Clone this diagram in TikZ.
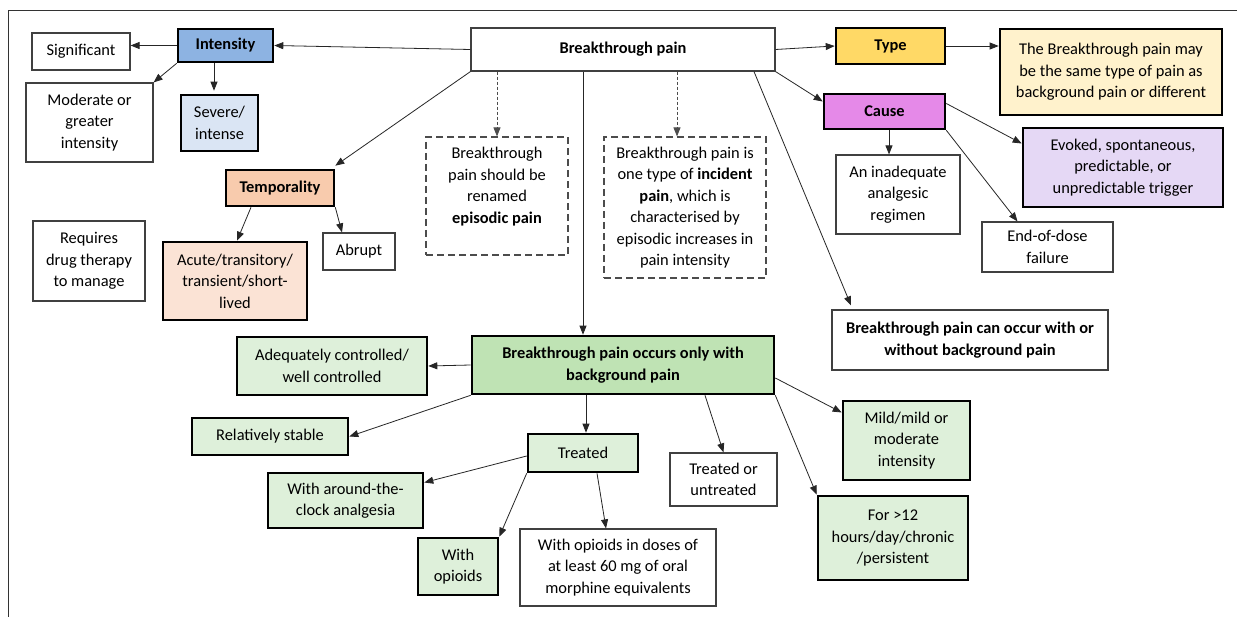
\documentclass[tikz,border=0pt]{standalone}
\usepackage{fontspec}
\setmainfont{Carlito}
\usetikzlibrary{arrows.meta}
\definecolor{cIntensity}{HTML}{8DB3E2}
\definecolor{cSevere}{HTML}{DAE5F4}
\definecolor{cTemp}{HTML}{F8CBAD}
\definecolor{cAcute}{HTML}{FBE3D5}
\definecolor{cType}{HTML}{FFD966}
\definecolor{cTypeText}{HTML}{FFF2CC}
\definecolor{cCause}{HTML}{E589E8}
\definecolor{cEvoked}{HTML}{E5D8F5}
\definecolor{cBG}{HTML}{BFE3B4}
\definecolor{cLight}{HTML}{DEF0DA}
\begin{document}
\begin{tikzpicture}[x=1pt,y=-1pt,
  base/.style={align=center, inner sep=0pt, font=\fontsize{16.4}{21.5}\selectfont, text=black},
  thinbox/.style={base, draw=black!75, line width=1.2pt, fill=white},
  thickbox/.style={base, draw=black, line width=2.6pt},
  dashbox/.style={base, draw=black!70, line width=1.2pt, dash pattern=on 7pt off 4pt, fill=white},
  conn/.style={draw=black!85, line width=0.8pt, -{Triangle[length=9pt,width=7pt]}},
  dotconn/.style={conn, draw=black!70, dash pattern=on 3pt off 2pt},
  framestyle/.style={draw=black!80, line width=1.4pt}]
\useasboundingbox (0,0) rectangle (1237,617);
\fill[white] (0,0) rectangle (1237,617);
% frame
\coordinate (ftr) at (1237,10.5);
\coordinate (ftl) at (8.5,10.5);
\coordinate (fbl) at (8.5,617);
\draw[framestyle] (ftr) -- (ftl) -- (fbl);

% nodes
\node[thinbox, minimum width=98, minimum height=37] (significant) at (81,51.5) {Significant};
\node[thickbox, fill=cIntensity, minimum width=95, minimum height=33] (intensity) at (225.5,45.5) {\textbf{Intensity}};
\node[thinbox, minimum width=127, minimum height=79] (moderate) at (89.5,122.5) {Moderate or\\greater\\intensity};
\node[thickbox, fill=cSevere, minimum width=77, minimum height=56] (severe) at (219.5,123) {Severe/\\intense};
\node[thickbox, fill=cTemp, minimum width=108, minimum height=36] (temporality) at (280,188) {\textbf{Temporality}};
\node[thinbox, minimum width=112, minimum height=80] (requires) at (89,261) {Requires\\drug therapy\\to manage};
\node[thickbox, fill=cAcute, minimum width=144, minimum height=78] (acute) at (235,281) {Acute/transitory/\\transient/short-\\lived};
\node[thinbox, minimum width=72, minimum height=37] (abrupt) at (359,251.5) {Abrupt};

\node[thinbox, minimum width=304, minimum height=43] (bp) at (623,49.5) {\textbf{Breakthrough pain}};
\node[dashbox, minimum width=142, minimum height=118] (dashed1) at (497,196) {Breakthrough\\pain should be\\renamed\\\textbf{episodic pain}\\\mbox{}};
\node[dashbox, minimum width=162, minimum height=141] (dashed2) at (685,207.5) {Breakthrough pain is\\one type of \textbf{incident}\\\textbf{pain}, which is\\characterised by\\episodic increases in\\pain intensity};

\node[thickbox, fill=cType, minimum width=109, minimum height=36] (type) at (890.5,46) {\textbf{Type}};
\node[thickbox, fill=cTypeText, minimum width=222, minimum height=86] (typetext) at (1111,72) {The Breakthrough pain may\\be the same type of pain as\\background pain or different};
\node[thickbox, fill=cCause, minimum width=121, minimum height=35] (cause) at (884.5,111.5) {\textbf{Cause}};
\node[thickbox, fill=cEvoked, minimum width=200, minimum height=79] (evoked) at (1123,167.5) {Evoked, spontaneous,\\predictable, or\\unpredictable trigger};
\node[thinbox, minimum width=124, minimum height=79] (inadequate) at (898,194.5) {An inadequate\\analgesic\\regimen};
\node[thinbox, minimum width=131, minimum height=50] (enddose) at (1047.5,247) {End-of-dose\\failure};
\node[thinbox, minimum width=276, minimum height=60] (canoccur) at (970,340) {\textbf{Breakthrough pain can occur with or}\\\textbf{without background pain}};

\node[thickbox, fill=cBG, minimum width=302, minimum height=58] (bg) at (623,365) {\textbf{Breakthrough pain occurs only with}\\\textbf{background pain}};
\node[thickbox, fill=cLight, minimum width=190, minimum height=58] (adequate) at (332,366) {Adequately controlled/\\well controlled};
\node[thickbox, fill=cLight, minimum width=156, minimum height=37] (relstable) at (270,436.5) {Relatively stable};
\node[thickbox, fill=cLight, minimum width=110, minimum height=38] (treated) at (583,453) {Treated};
\node[thickbox, fill=cLight, minimum width=155, minimum height=55] (around) at (345.5,500.5) {With around-the-\\clock analgesia};
\node[thickbox, fill=cLight, minimum width=80, minimum height=57] (opioids) at (458,566.5) {With\\opioids};
\node[thinbox, minimum width=196, minimum height=77] (doses) at (618,567.5) {With opioids in doses of\\at least 60 mg of oral\\morphine equivalents};
\node[thinbox, minimum width=107, minimum height=53] (treatedor) at (723.5,479.5) {Treated or\\untreated};
\node[thickbox, fill=cLight, minimum width=127, minimum height=79] (mild) at (906.5,440.5) {Mild/mild or\\moderate\\intensity};
\node[thickbox, fill=cLight, minimum width=150, minimum height=84] (for12) at (893,538) {For >12\\hours/day/chronic\\/persistent};

% connectors
\draw[conn] (bp.west) -- (intensity.east);
\draw[conn] (intensity.west) -- (significant.east |- intensity.west);
\draw[conn] (intensity.south west) -- (moderate.north east);
\draw[conn] ([xshift=-11.5pt]intensity.south) -- ([xshift=-5.5pt,yshift=3pt]severe.north);
\draw[conn] (bp.south west) -- ([yshift=3pt]temporality.north east);
\draw[conn] ([xshift=-29pt]temporality.south) -- ([xshift=2pt]acute.north);
\draw[conn] (temporality.south east) -- ([xshift=-17pt]abrupt.north);
\draw[conn] (bp.east) -- (type.west);
\draw[conn] (type.east) -- (typetext.west |- type.east);
\draw[conn] (bp.south east) -- ([yshift=10pt]cause.west);
\draw[conn] ([yshift=8pt]cause.east) -- ([yshift=24pt]evoked.west);
\draw[conn] ([xshift=4.5pt]cause.south) -- ([xshift=-9pt]inadequate.north);
\draw[conn] (cause.south east) -- ([xshift=-30pt]enddose.north);
\draw[conn] ([xshift=-40pt]bp.south) -- ([xshift=-40pt]bg.north);
\draw[dotconn] ([xshift=-126pt]bp.south) -- (dashed1.north);
\draw[dotconn] ([xshift=54pt]bp.south) -- ([xshift=-8pt]dashed2.north);
\draw[conn] ([xshift=131pt]bp.south) -- ([xshift=-119pt,yshift=4pt]canoccur.north);
\draw[conn] (bg.west) -- (adequate.east);
\draw[conn] (bg.south west) -- (relstable.east);
\draw[conn] ([xshift=-37pt]bg.south) -- ([xshift=3pt]treated.north);
\draw[conn] ([yshift=-3pt]treated.west) -- ([yshift=18pt]around.east);
\draw[conn] (treated.south west) -- (opioids.north east);
\draw[conn] ([xshift=14pt]treated.south) -- ([xshift=-12pt]doses.north);
\draw[conn] ([xshift=82pt]bg.south) -- (treatedor.north);
\draw[conn] ([yshift=-13pt]bg.east) -- ([yshift=28pt]mild.west);
\draw[conn] (bg.south east) -- (for12.north west);
\end{tikzpicture}
\end{document}
